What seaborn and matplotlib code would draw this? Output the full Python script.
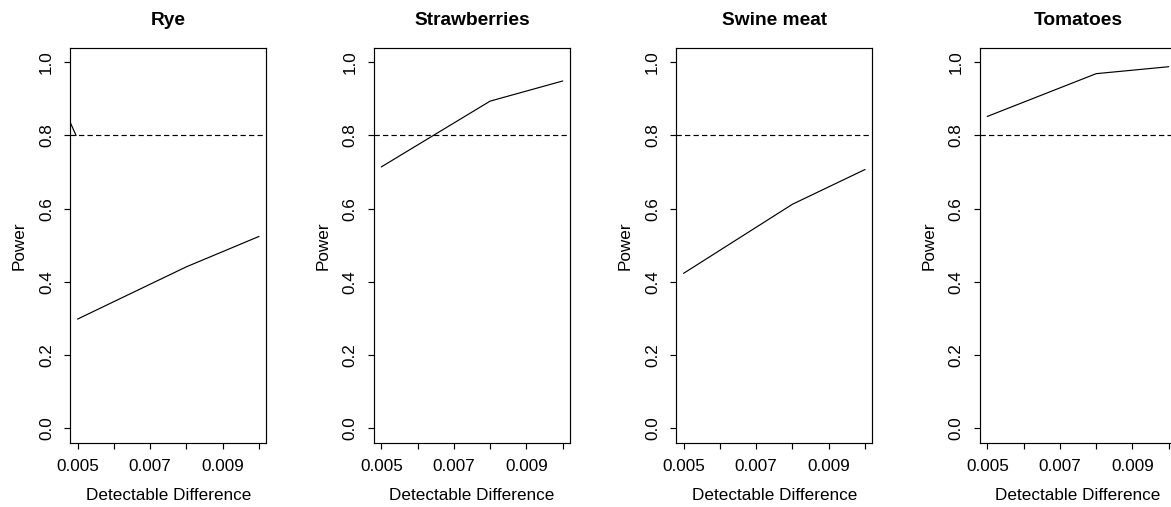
import numpy as np
import pandas as pd
import matplotlib
matplotlib.use("Agg")
import matplotlib.pyplot as plt
import seaborn as sns

# Power curves by commodity
commodities = ["Rye", "Strawberries", "Swine meat", "Tomatoes"]
detectable_diff = [0.005, 0.008, 0.010]
power_rye = [0.298, 0.441, 0.524]
power_strawberries = [0.714, 0.894, 0.949]
power_swine = [0.423, 0.612, 0.707]
power_tomatoes = [0.852, 0.969, 0.988]

# short leftover segment at the left edge of the Rye panel
rye_edge_x = [0.0047, 0.00496]
rye_edge_y = [0.857, 0.800]

target_power = 0.8

x_ticks = [0.005, 0.006, 0.007, 0.008, 0.009, 0.010]
x_tick_labels = ["0.005", "", "0.007", "", "0.009", ""]
y_ticks = [0.0, 0.2, 0.4, 0.6, 0.8, 1.0]
y_tick_labels = ["0.0", "0.2", "0.4", "0.6", "0.8", "1.0"]

series = {
    "Rye": power_rye,
    "Strawberries": power_strawberries,
    "Swine meat": power_swine,
    "Tomatoes": power_tomatoes,
}

sns.set_style("white")
plt.rcParams["font.family"] = ["Liberation Sans", "DejaVu Sans"]
plt.rcParams["text.color"] = "black"
plt.rcParams["axes.labelcolor"] = "black"
plt.rcParams["xtick.color"] = "black"
plt.rcParams["ytick.color"] = "black"

W, H = 1171, 507
fig = plt.figure(figsize=(W / 100, H / 100), dpi=100)

lefts = [70.3, 374.0, 676.3, 980.0]
panel_w = 196.0
top_px, bottom_px = 47.7, 442.7

for name, left in zip(commodities, lefts):
    ax = fig.add_axes([left / W, (H - bottom_px) / H, panel_w / W,
                       (bottom_px - top_px) / H])
    df = pd.DataFrame({"diff": detectable_diff, "power": series[name]})
    sns.lineplot(data=df, x="diff", y="power", ax=ax, color="black",
                 linewidth=0.85, sort=False)
    if name == "Rye":
        edge = pd.DataFrame({"diff": rye_edge_x, "power": rye_edge_y})
        sns.lineplot(data=edge, x="diff", y="power", ax=ax, color="black",
                     linewidth=0.85, sort=False)
    ax.axhline(target_power, color="black", linewidth=0.85,
               linestyle=(0, (4.5, 2.7)))

    ax.set_xlim(0.0048, 0.0102)
    ax.set_ylim(-0.04, 1.04)
    ax.set_xticks(x_ticks)
    ax.set_xticklabels(x_tick_labels)
    ax.set_yticks(y_ticks)
    ax.set_yticklabels(y_tick_labels, rotation=90, va="center")

    ax.tick_params(axis="both", direction="out", length=4.2, width=0.85,
                   color="black", labelcolor="black", labelsize=12.3,
                   pad=7.5, bottom=True, left=True)
    for sp in ax.spines.values():
        sp.set_visible(True)
        sp.set_color("black")
        sp.set_linewidth(0.85)

    ax.set_title(name, fontsize=13.8, fontweight="bold", pad=16,
                 color="black")
    ax.set_xlabel("Detectable Difference", fontsize=12.3, labelpad=10,
                  color="black")
    ax.set_ylabel("Power", fontsize=12.3, labelpad=9, color="black")

fig.savefig("out.png", dpi=100)
